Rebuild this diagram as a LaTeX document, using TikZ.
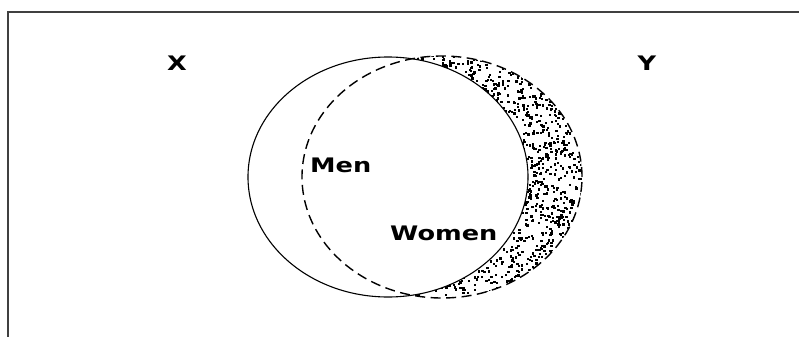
\documentclass[tikz,border=0pt]{standalone}
\usepackage{fontspec}
\setmainfont{DejaVu Sans}
\begin{document}
\begin{tikzpicture}[x=1pt,y=-1pt,
  frameline/.style={draw=black!75,line width=1.6pt},
  solidset/.style={draw=black,line width=1.1pt},
  dashedset/.style={draw=black,line width=1.4pt,dash pattern=on 10pt off 5.5pt},
  lab/.style={inner sep=0pt,font=\fontsize{20}{24}\selectfont\bfseries}]
\useasboundingbox (0,0) rectangle (799,337);
% frame (top and left only)
\coordinate (tl) at (8,12);
\coordinate (tr) at (799,12);
\coordinate (bl) at (8,337);
\draw[frameline] (tr) -- (tl) -- (bl);
% stipple in dashed minus solid
\begin{scope}[even odd rule]
  \clip (415,40) rectangle (600,310);
  \clip (442,177) ellipse [x radius=140pt, y radius=121pt]
        (388,177) ellipse [x radius=140pt, y radius=120pt];
  \pgfmathsetseed{11}
  \foreach \i in {1,...,1900}{
    \pgfmathsetmacro\xx{415+168*rnd}
    \pgfmathsetmacro\yy{56+242*rnd}
    \fill[black] (\xx,\yy) rectangle ++(2.3,-2.3);
  }
\end{scope}
% sets
\draw[solidset] (388,177) ellipse [x radius=140pt, y radius=120pt];
\draw[dashedset] (442,177) ellipse [x radius=140pt, y radius=121pt];
% labels
\node[lab] (X) at (177,63) {\scalebox{1.28}[1]{X}};
\node[lab] (Y) at (647,63) {\scalebox{1.28}[1]{Y}};
\node[lab,anchor=base west] (men) at (310,172) {\scalebox{1.28}[1]{Men}};
\node[lab,anchor=base west] (women) at (390,240) {\scalebox{1.28}[1]{Women}};
\end{tikzpicture}
\end{document}
